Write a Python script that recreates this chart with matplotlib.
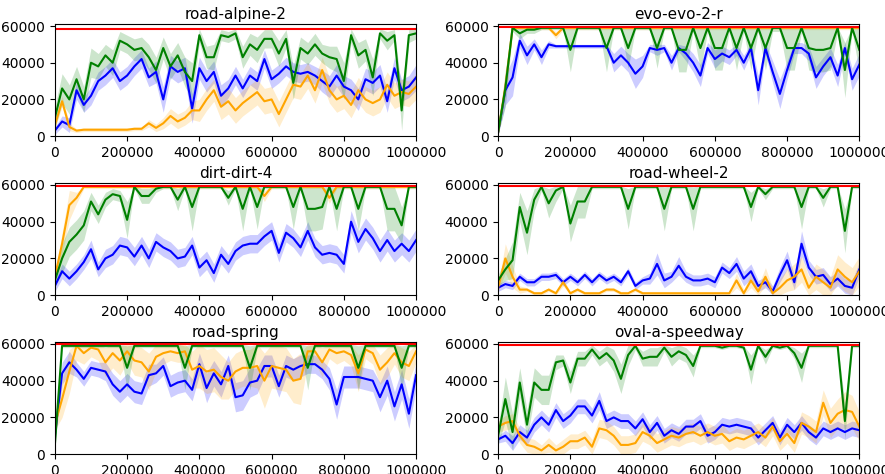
import numpy as np
import matplotlib
matplotlib.use("Agg")
import matplotlib.pyplot as plt

# rewards in thousands, one value every 20000 steps
steps = np.arange(0, 1000001, 20000)

titles = ["road-alpine-2", "evo-evo-2-r", "dirt-dirt-4",
          "road-wheel-2", "road-spring", "oval-a-speedway"]
max_reward = [58.4, 59.4, 59.3, 59.5, 59.8, 59.5]

alpine_green = [10, 26, 20, 31, 20, 40, 38, 44, 40, 52, 50, 47, 48, 43, 36, 48, 38, 44, 35, 30,
                55, 43, 43, 55, 54, 56, 43, 50, 47, 53, 53, 45, 53, 29, 48, 45, 50, 45, 43, 42,
                30, 55, 44, 47, 32, 56, 52, 55, 14, 55, 56]
alpine_green_sd = [6, 8, 8, 7, 7, 8, 7, 6, 7, 5, 5, 6, 6, 7, 7, 6, 7, 7, 8, 10,
                   4, 6, 7, 3, 3, 3, 6, 6, 7, 5, 5, 7, 5, 9, 6, 6, 6, 5, 6, 7,
                   10, 4, 7, 6, 10, 3, 5, 3, 11, 4, 3]
alpine_blue = [3, 8, 6, 25, 17, 22, 30, 33, 37, 30, 33, 38, 42, 32, 35, 20, 38, 35, 37, 15,
               37, 30, 35, 22, 26, 33, 26, 33, 30, 42, 31, 34, 38, 35, 34, 35, 33, 30, 27, 33,
               27, 25, 20, 31, 29, 33, 19, 37, 25, 27, 32]
alpine_blue_sd = [2, 3, 4, 5, 4, 5, 5, 5, 5, 5, 5, 5, 5, 5, 6, 7, 6, 6, 6, 8,
                  6, 6, 6, 6, 5, 5, 5, 5, 5, 5, 5, 5, 5, 5, 5, 5, 5, 6, 6, 6,
                  6, 6, 6, 6, 6, 6, 6, 6, 6, 6, 7]
alpine_orange = [6, 19, 5, 3, 3.5, 3.5, 3.5, 3.5, 3.5, 3.5, 3.5, 4, 4, 7, 4.5, 7, 11, 8, 10, 14,
                 14, 20, 25, 16, 19, 14, 18, 21, 24, 19, 20, 12, 20, 28, 27, 33, 25, 36, 25, 20,
                 22, 17, 25, 20, 18, 20, 28, 22, 24, 23, 27]
alpine_orange_sd = [2, 3, 2, 1, 1, 1, 1, 1, 1, 1, 1, 1, 1, 2, 2, 3, 4, 4, 4, 5,
                    6, 6, 6, 7, 7, 7, 7, 7, 7, 7, 7, 7, 7, 7, 7, 7, 7, 7, 7, 7,
                    7, 7, 7, 7, 7, 7, 7, 7, 7, 7, 7]

evo_green = [2, 26, 59, 56, 58, 58, 59, 59, 59, 59, 47, 59, 59, 59, 59, 48, 59, 59, 48, 59,
             59, 59, 48, 59, 59, 47, 47, 59, 48, 59, 48, 48, 59, 48, 59, 48, 59, 48, 59, 59,
             48, 48, 59, 48, 47, 47, 48, 59, 36, 59, 47]
evo_green_sd = [1, 10, 2, 3, 2, 2, 1, 1, 1, 1, 12, 1, 1, 1, 1, 13, 1, 1, 11, 1,
                1, 1, 11, 1, 1, 12, 12, 2, 12, 2, 12, 12, 2, 12, 2, 12, 2, 12, 2, 2,
                12, 12, 2, 12, 12, 12, 12, 2, 15, 2, 12]
evo_blue = [2, 25, 32, 52, 44, 50, 43, 50, 49, 49, 49, 49, 49, 49, 49, 49, 40, 44, 40, 34,
            38, 48, 47, 48, 40, 48, 45, 40, 33, 48, 42, 45, 43, 47, 40, 48, 25, 48, 35, 23,
            36, 48, 48, 45, 32, 38, 43, 33, 48, 31, 39]
evo_blue_sd = [1, 8, 10, 4, 5, 3, 4, 2, 1, 1, 1, 1, 1, 1, 1, 1, 5, 5, 5, 8,
               6, 2, 3, 2, 4, 2, 4, 5, 6, 3, 5, 4, 4, 3, 4, 3, 8, 3, 6, 8,
               5, 3, 3, 4, 6, 5, 5, 6, 3, 6, 6]
evo_orange = [2, 27, 59, 59, 59, 59, 59, 59, 55, 59, 59, 59, 59, 59, 59, 59, 59, 59, 59, 59,
              59, 59, 59, 59, 59, 59, 59, 59, 59, 59, 59, 59, 59, 59, 59, 59, 59, 59, 59, 59,
              59, 59, 59, 59, 59, 59, 59, 59, 59, 59, 59]
evo_orange_sd = [1, 5, 1, 1, 1, 1, 1, 1, 2, 1, 1, 1, 1, 1, 1, 1, 1, 1, 1, 1,
                 1, 1, 1, 1, 1, 1, 1, 1, 1, 1, 1, 1, 1, 1, 1, 1, 1, 1, 1, 1,
                 1, 1, 1, 1, 1, 1, 1, 1, 1, 1, 1]

dirt_green = [8, 20, 29, 33, 38, 51, 44, 52, 55, 54, 41, 59, 54, 54, 58, 59, 59, 52, 59, 48,
              59, 59, 59, 59, 53, 59, 47, 59, 48, 59, 59, 59, 59, 48, 59, 47, 47, 48, 59, 47,
              59, 59, 47, 59, 59, 59, 47, 47, 38, 59, 59]
dirt_green_sd = [3, 8, 8, 8, 8, 5, 5, 4, 3, 3, 10, 1, 4, 4, 2, 1, 1, 6, 1, 13,
                 1, 1, 1, 1, 4, 1, 12, 1, 12, 1, 1, 1, 1, 12, 1, 12, 12, 12, 1, 12,
                 1, 1, 12, 1, 1, 1, 12, 12, 10, 1, 1]
dirt_blue = [5, 13, 9, 13, 18, 25, 14, 20, 22, 27, 26, 21, 27, 20, 29, 26, 24, 20, 21, 27,
             15, 19, 12, 22, 17, 24, 27, 28, 28, 32, 35, 23, 34, 31, 26, 35, 26, 22, 23, 22,
             17, 40, 29, 36, 31, 24, 30, 24, 28, 24, 30]
dirt_blue_sd = [3, 4, 4, 4, 4, 5, 4, 5, 5, 5, 5, 5, 5, 5, 5, 5, 5, 5, 5, 5,
                5, 5, 5, 5, 5, 5, 5, 5, 5, 5, 5, 5, 5, 5, 5, 5, 5, 5, 5, 5,
                5, 6, 6, 6, 6, 6, 6, 6, 6, 6, 6]
dirt_orange = [10, 28, 49, 53, 59, 59, 59, 59, 59, 59, 59, 59, 59, 59, 59, 59, 59, 59, 59, 59,
               59, 59, 59, 59, 59, 59, 59, 59, 59, 54, 59, 59, 59, 59, 59, 59, 59, 59, 53, 59,
               59, 59, 59, 59, 59, 59, 59, 59, 59, 59, 59]
dirt_orange_sd = [2, 6, 8, 3, 1, 1, 1, 1, 1, 1, 1, 1, 1, 1, 1, 1, 1, 1, 1, 1,
                  1, 1, 1, 1, 1, 1, 1, 1, 1, 3, 1, 1, 1, 1, 1, 1, 1, 1, 3, 1,
                  1, 1, 1, 1, 1, 1, 1, 1, 1, 1, 1]

wheel_green = [8, 14, 19, 48, 34, 52, 59, 50, 57, 59, 39, 51, 51, 59, 59, 59, 59, 59, 47, 59,
               59, 59, 59, 47, 59, 59, 59, 47, 59, 59, 59, 59, 59, 59, 59, 48, 59, 55, 59, 59,
               59, 59, 48, 59, 59, 53, 59, 59, 35, 59, 59]
wheel_green_sd = [3, 6, 10, 8, 12, 6, 2, 8, 6, 1, 10, 9, 9, 1, 1, 1, 1, 1, 11, 1,
                  1, 1, 1, 12, 1, 1, 1, 12, 1, 1, 1, 1, 1, 1, 1, 8, 1, 3, 1, 1,
                  1, 1, 12, 1, 1, 5, 1, 1, 12, 1, 1]
wheel_blue = [4, 6, 5, 10, 7, 7, 10, 10, 11, 7, 10, 7, 11, 7, 11, 8, 10, 7, 13, 5,
              8, 9, 17, 8, 10, 16, 10, 8, 8, 9, 7, 15, 12, 17, 9, 13, 5, 7, 2, 11,
              19, 7, 28, 15, 10, 11, 6, 9, 5, 4, 14]
wheel_blue_sd = [2, 2, 2, 2, 2, 2, 2, 2, 2, 2, 2, 2, 2, 2, 2, 2, 2, 2, 2, 2,
                 2, 3, 6, 4, 3, 5, 3, 3, 3, 3, 3, 3, 3, 4, 4, 4, 3, 3, 3, 4,
                 5, 4, 7, 4, 4, 4, 4, 4, 4, 4, 4]
wheel_orange = [4, 20, 10, 3, 3, 1, 1, 3, 1, 7, 1, 3, 1, 1, 1, 3, 3, 1, 1, 3,
                1, 1, 1, 1, 1, 1, 1, 1, 1, 1, 1, 1, 1, 8, 1, 8, 2, 10, 1, 4,
                8, 10, 14, 4, 10, 7, 4, 14, 10, 7, 13]
wheel_orange_sd = [2, 8, 6, 2, 1, 1, 1, 1, 1, 2, 1, 1, 1, 1, 1, 1, 1, 1, 1, 1,
                   1, 1, 1, 1, 1, 1, 1, 1, 1, 1, 1, 1, 1, 4, 2, 4, 3, 5, 3, 5,
                   6, 7, 7, 6, 7, 7, 6, 8, 8, 8, 8]

spring_green = [5, 59, 59, 59, 59, 59, 59, 59, 59, 59, 47, 59, 59, 59, 59, 59, 59, 59, 47, 59,
                59, 59, 59, 59, 59, 59, 59, 47, 59, 59, 59, 59, 59, 59, 59, 47, 59, 59, 59, 59,
                59, 59, 47, 59, 59, 59, 59, 59, 47, 59, 59]
spring_green_sd = [3, 1, 1, 1, 1, 1, 1, 1, 1, 1, 12, 1, 1, 1, 1, 1, 1, 1, 12, 1,
                   1, 1, 1, 1, 1, 1, 1, 12, 1, 1, 1, 1, 1, 1, 1, 12, 1, 1, 1, 1,
                   1, 1, 12, 1, 1, 1, 1, 1, 12, 1, 1]
spring_blue = [10, 44, 50, 46, 41, 47, 46, 45, 38, 34, 38, 34, 33, 43, 44, 48, 37, 39, 40, 35,
               49, 36, 44, 38, 48, 31, 32, 39, 40, 48, 48, 37, 48, 46, 48, 49, 49, 46, 41, 27,
               42, 42, 42, 41, 40, 31, 40, 26, 38, 22, 43]
spring_blue_sd = [4, 6, 6, 4, 4, 4, 4, 5, 6, 6, 6, 6, 6, 6, 5, 5, 6, 6, 6, 6,
                  6, 8, 7, 7, 6, 8, 8, 8, 7, 6, 6, 6, 6, 6, 6, 5, 5, 5, 6, 8,
                  6, 6, 6, 6, 6, 8, 8, 8, 8, 8, 7]
spring_orange = [16, 30, 45, 59, 55, 58, 57, 50, 55, 51, 56, 51, 50, 45, 53, 55, 56, 55, 56, 46,
                 48, 45, 46, 42, 40, 45, 47, 47, 48, 40, 48, 47, 46, 40, 41, 56, 56, 50, 57, 55,
                 56, 54, 44, 57, 55, 46, 50, 55, 50, 48, 56]
spring_orange_sd = [3, 10, 12, 8, 6, 5, 6, 8, 8, 8, 6, 8, 8, 10, 8, 6, 5, 5, 6, 10,
                    12, 12, 12, 12, 10, 10, 10, 10, 12, 15, 12, 12, 12, 12, 14, 6, 6, 8, 5, 6,
                    5, 6, 10, 5, 6, 8, 8, 6, 8, 8, 6]

oval_green = [10, 30, 12, 39, 16, 39, 35, 35, 50, 51, 39, 52, 52, 57, 52, 55, 51, 41, 54, 59,
              52, 53, 53, 58, 53, 56, 54, 48, 59, 59, 59, 58, 59, 59, 58, 46, 59, 53, 59, 58,
              59, 55, 47, 59, 59, 59, 59, 59, 18, 59, 59]
oval_green_sd = [5, 12, 10, 8, 8, 8, 8, 8, 4, 3, 6, 4, 4, 3, 4, 4, 6, 8, 6, 2,
                 4, 5, 5, 2, 5, 4, 4, 6, 1, 1, 1, 1, 1, 1, 1, 8, 1, 4, 1, 1,
                 1, 3, 8, 1, 1, 1, 1, 1, 10, 1, 1]
oval_blue = [8, 10, 6, 12, 9, 16, 20, 16, 24, 18, 21, 26, 26, 21, 29, 18, 20, 18, 18, 14,
             19, 12, 17, 10, 13, 11, 15, 15, 18, 10, 12, 16, 15, 16, 15, 14, 9, 13, 17, 9,
             16, 12, 17, 12, 9, 14, 12, 14, 12, 14, 13]
oval_blue_sd = [2, 3, 4, 4, 4, 4, 4, 4, 4, 4, 4, 4, 4, 4, 5, 4, 4, 4, 4, 4,
                4, 4, 4, 4, 4, 4, 4, 4, 4, 4, 4, 4, 4, 4, 4, 4, 4, 4, 4, 4,
                4, 4, 4, 4, 4, 4, 4, 4, 4, 4, 4]
oval_orange = [15, 17, 18, 10, 5, 4, 2, 5, 2, 4, 7, 7, 9, 4, 14, 13, 10, 5, 5, 6,
               12, 10, 6, 8, 10, 9, 11, 12, 10, 12, 10, 11, 7, 9, 8, 10, 12, 9, 15, 7,
               11, 6, 17, 15, 12, 28, 17, 22, 24, 23, 15]
oval_orange_sd = [3, 4, 4, 4, 4, 4, 3, 4, 3, 4, 4, 4, 4, 4, 5, 5, 5, 5, 5, 5,
                  5, 5, 5, 5, 5, 5, 5, 5, 5, 5, 5, 5, 5, 5, 5, 5, 5, 5, 5, 5,
                  5, 5, 6, 6, 6, 7, 8, 8, 10, 9, 8]

panels = [
    [(alpine_blue, alpine_blue_sd), (alpine_orange, alpine_orange_sd), (alpine_green, alpine_green_sd)],
    [(evo_blue, evo_blue_sd), (evo_orange, evo_orange_sd), (evo_green, evo_green_sd)],
    [(dirt_blue, dirt_blue_sd), (dirt_orange, dirt_orange_sd), (dirt_green, dirt_green_sd)],
    [(wheel_blue, wheel_blue_sd), (wheel_orange, wheel_orange_sd), (wheel_green, wheel_green_sd)],
    [(spring_blue, spring_blue_sd), (spring_orange, spring_orange_sd), (spring_green, spring_green_sd)],
    [(oval_blue, oval_blue_sd), (oval_orange, oval_orange_sd), (oval_green, oval_green_sd)],
]
colors = ["blue", "orange", "green"]

fig, axes = plt.subplots(3, 2, figsize=(8.85, 4.74), dpi=100)
fig.subplots_adjust(left=0.062, right=0.971, top=0.949, bottom=0.042, wspace=0.227, hspace=0.42)

for ax, title, cap, lines in zip(axes.flat, titles, max_reward, panels):
    for (mean, sd), c in zip(lines, colors):
        m = np.array(mean) * 1000
        s = np.array(sd) * 1000
        lo = np.maximum(m - s, 0)
        hi = np.minimum(m + s, cap * 1000)
        ax.fill_between(steps, lo, hi, color=c, alpha=0.2, linewidth=0)
        ax.plot(steps, m, color=c, linewidth=1.5)
    ax.axhline(cap * 1000, color="red", linewidth=1.5)
    ax.set_title(title, fontsize=11, pad=4)
    ax.set_xlim(0, 1000000)
    ax.set_ylim(0, 61000)
    ax.set_xticks(range(0, 1000001, 200000))
    ax.set_xticklabels([str(t) for t in range(0, 1000001, 200000)])
    ax.set_yticks([0, 20000, 40000, 60000])
    ax.tick_params(labelsize=10)

plt.savefig("out.png")
